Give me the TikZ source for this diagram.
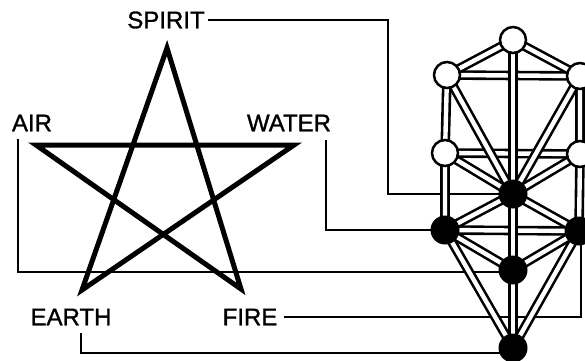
\documentclass[tikz,border=0pt]{standalone}
\usepackage{fontspec}
\setmainfont{Liberation Sans}
\newfontfamily\lblfont{Liberation Sans}[FakeBold=1.2]
\usetikzlibrary{calc}
\begin{document}
\begin{tikzpicture}[x=1pt,y=-1pt,
  lbl/.style={inner sep=0pt,font=\lblfont\fontsize{24}{24}\selectfont},
  conn/.style={line width=1.1pt},
  star/.style={line width=5pt,line join=miter},
  bar/.style={line width=2.6pt,double=white,double distance=4.4pt},
  wnode/.style={circle,draw,fill=white,line width=2.5pt,minimum size=26pt,inner sep=0pt},
  bnode/.style={circle,fill=black,minimum size=29pt,inner sep=0pt}]
\useasboundingbox (0,0) rectangle (585,360);
\clip (0,0) rectangle (585,360);
% labels
\node[lbl] (spirit) at (166,20) {SPIRIT};
\node[lbl] (air) at (32,123) {AIR};
\node[lbl] (water) at (289,123) {WATER};
\node[lbl] (earth) at (71,317) {EARTH};
\node[lbl] (fire) at (250,317) {FIRE};
% pentagram vertices
\coordinate (pt) at (167,48);
\coordinate (pl) at (36,145);
\coordinate (pr) at (294,145);
\coordinate (pbl) at (82,290);
\coordinate (pbr) at (241,289);
\draw[star] (pt) -- (pbl) -- (pr) -- (pl) -- (pbr) -- cycle;
% tree node positions
\coordinate (kether) at (513,40);
\coordinate (binah) at (447,75);
\coordinate (chokmah) at (580,76);
\coordinate (geburah) at (445,153);
\coordinate (chesed) at (580,154);
\coordinate (tiph) at (513,194);
\coordinate (hod) at (445,230);
\coordinate (netzach) at (579,231);
\coordinate (yesod) at (513,270);
\coordinate (malkuth) at (513,348);
% connectors
\coordinate (sp) at (388,20);
\coordinate (wa) at (326,140);
\coordinate (ai) at (18,139);
\coordinate (ea) at (81,333);
\draw[conn] ([xshift=3pt]spirit.east) -- (sp) |- (tiph);
\draw[conn] (wa) |- (hod);
\draw[conn] (ai) |- ($(yesod)+(0,2)$);
\draw[conn] ([xshift=6pt]fire.east) -| ($(netzach)+(2,0)$);
\draw[conn] (ea) |- ($(malkuth)+(0,5)$);
% paths
\draw[bar] (binah) -- (chokmah);
\draw[bar] (geburah) -- (chesed);
\draw[bar] (hod) -- (netzach);
\draw[bar] (kether) -- (binah);
\draw[bar] (kether) -- (chokmah);
\draw[bar] (binah) -- (tiph);
\draw[bar] (chokmah) -- (tiph);
\draw[bar] (geburah) -- (tiph);
\draw[bar] (chesed) -- (tiph);
\draw[bar] (tiph) -- (hod);
\draw[bar] (tiph) -- (netzach);
\draw[bar] (hod) -- (yesod);
\draw[bar] (netzach) -- (yesod);
\draw[bar] (hod) -- (malkuth);
\draw[bar] (netzach) -- (malkuth);
\draw[bar] (binah) -- (geburah) -- (hod);
\draw[bar] (chokmah) -- (chesed) -- (netzach);
\draw[bar] (kether) -- (tiph) -- (yesod) -- (malkuth);
% sephiroth
\node[wnode] (n1) at (kether) {};
\node[wnode] (n3) at (binah) {};
\node[wnode] (n2) at (chokmah) {};
\node[wnode] (n5) at (geburah) {};
\node[wnode] (n4) at (chesed) {};
\node[bnode] (n6) at (tiph) {};
\node[bnode] (n8) at (hod) {};
\node[bnode] (n7) at (netzach) {};
\node[bnode] (n9) at (yesod) {};
\node[bnode] (n10) at (malkuth) {};
\end{tikzpicture}
\end{document}
